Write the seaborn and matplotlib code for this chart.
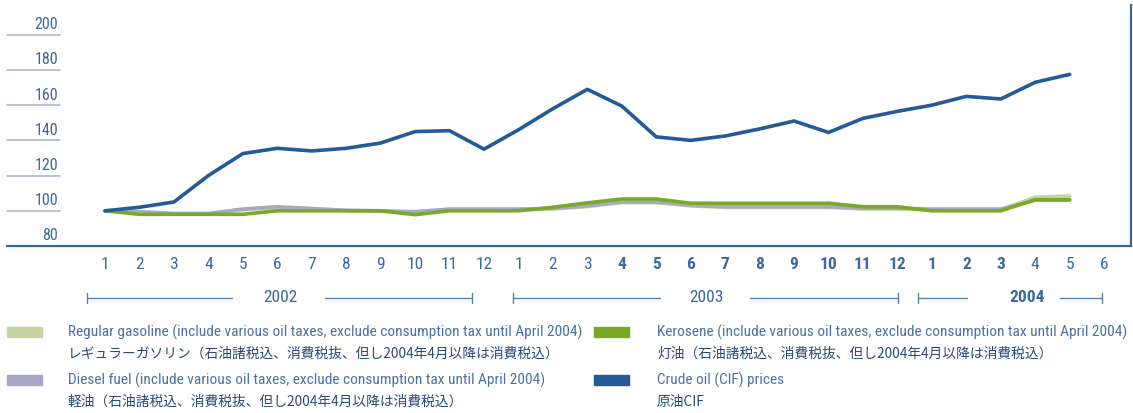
import numpy as np
import pandas as pd
import matplotlib
matplotlib.use("Agg")
import matplotlib.pyplot as plt
from matplotlib import font_manager
import seaborn as sns

# month labels: 2002/1 .. 2004/6
month_labels = [str(m) for m in range(1, 13)] * 2 + [str(m) for m in range(1, 7)]
bold_months = list(range(15, 27))  # 2003/4 .. 2004/3 drawn in bold

# index values (2002/1 = 100), 2002/1 .. 2004/5
crude = [100, 102, 105, 120, 132.5, 135.5, 134, 135.5, 138.5, 145, 145.5, 135,
         146, 158, 169, 159.5, 142, 140, 142.5, 146.5, 151, 144.5, 152.5, 156.5,
         160, 165, 163.5, 173, 177.5]
kerosene = [100, 98, 98, 98, 98, 100, 100, 100, 100, 97.8, 100, 100,
            100, 102, 104.5, 106.7, 106.7, 104.3, 104.3, 104.3, 104.3, 104.3, 102.3, 102.3,
            100, 100, 100, 106.3, 106.3]
diesel = [100, 99.5, 98.5, 98.5, 101, 102.3, 101.3, 100.3, 100, 99.5, 101, 101,
          101, 101.3, 102.8, 105, 105, 103.1, 102.3, 102.3, 102.3, 102.3, 101.4, 101.4,
          101, 101, 101, 106, 106]
gasoline = [100, 99, 98.2, 98.2, 100.5, 101.8, 101, 100, 99.7, 99.3, 100.6, 100.6,
            100.6, 101, 102.4, 104.6, 104.6, 102.8, 101.9, 101.9, 101.9, 101.9, 101, 101,
            100.5, 100.5, 100.5, 107.8, 108.4]

series_names = ["gasoline", "diesel", "kerosene", "crude"]
colors = {"gasoline": "#c6d6a2", "diesel": "#a8a8c6",
          "kerosene": "#78aa26", "crude": "#245a97"}

n = len(crude)
df = pd.DataFrame({"idx": np.arange(n), "gasoline": gasoline, "diesel": diesel,
                   "kerosene": kerosene, "crude": crude})
long = df.melt(id_vars="idx", var_name="series", value_name="value")

# pick a narrow latin face if one is installed
installed = {f.name for f in font_manager.fontManager.ttflist}
narrow = next((f for f in ["Liberation Sans Narrow", "Roboto Condensed",
                           "Open Sans Condensed", "DejaVu Sans Condensed"]
               if f in installed), "Roboto" if "Roboto" in installed else "DejaVu Sans")

sns.set_style("white")
plt.rcParams["font.family"] = [narrow, "Noto Sans CJK JP", "DejaVu Sans"]

tick_color = "#3b67a3"
W, H = 1133, 413
fig = plt.figure(figsize=(W / 100, H / 100), dpi=100)
ax = fig.add_axes([7 / W, 1 - 246 / H, 1124 / W, 241 / H])

sns.lineplot(data=long, x="idx", y="value", hue="series", hue_order=series_names,
             palette=colors, linewidth=2.6, legend=False, ax=ax, zorder=3)

ax.set_xlim(-2.845, 29.78)
ax.set_ylim(80, 216.9)

for s in ["top", "left"]:
    ax.spines[s].set_visible(False)
for s in ["bottom", "right"]:
    ax.spines[s].set_color("#3568a4")
    ax.spines[s].set_linewidth(1.6)

# short horizontal reference lines with labels
ax.set_yticks([])
for v in range(100, 201, 20):
    ax.plot([-2.845, -1.306], [v, v], color="#b3b3d3", lw=1.2, clip_on=False)
for v in range(80, 201, 20):
    ax.text(-1.36, v + 1.5, str(v), ha="right", va="bottom", fontsize=11.5,
            color=tick_color)

ax.set_xticks(range(len(month_labels)))
ax.set_xticklabels(month_labels)
ax.tick_params(axis="x", length=0, pad=8, labelsize=12.5, labelcolor=tick_color)
for i, lab in enumerate(ax.get_xticklabels()):
    if i in bold_months:
        lab.set_fontweight("bold")
ax.set_xlabel("")
ax.set_ylabel("")

# year brackets
trans = ax.get_xaxis_transform()
yb = -0.215
brackets = [("2002", -0.52, 10.65, 3.69, 6.39, 5.08, "normal"),
            ("2003", 11.84, 23.02, 16.11, 18.72, 17.47, "normal"),
            ("2004", 23.6, 28.94, 25.02, 27.72, 26.76, "bold")]
bcol = "#5a7fae"
for label, x0, x1, g0, g1, xc, w in brackets:
    ax.plot([x0, g0], [yb, yb], color=bcol, lw=1.0, transform=trans, clip_on=False)
    ax.plot([g1, x1], [yb, yb], color=bcol, lw=1.0, transform=trans, clip_on=False)
    for xe in (x0, x1):
        ax.plot([xe, xe], [yb - 0.02, yb + 0.02], color=bcol, lw=1.0,
                transform=trans, clip_on=False)
    ax.text(xc, yb, label, ha="center", va="center", fontsize=12.5,
            fontweight=w, color=tick_color, transform=trans)

# legend
en_col = "#4a72a6"
jp_col = "#27497e"
tail = " (include various oil taxes, exclude consumption tax until April 2004)"
jp_tail = "（石油諸税込、消費税抜、但し2004年4月以降は消費税込）"
legend_items = [
    ("gasoline", 7, 68, 332, "Regular gasoline" + tail, "レギュラーガソリン" + jp_tail),
    ("diesel", 7, 68, 380, "Diesel fuel" + tail, "軽油" + jp_tail),
    ("kerosene", 594, 657, 332, "Kerosene" + tail, "灯油" + jp_tail),
    ("crude", 594, 657, 380, "Crude oil (CIF) prices", "原油CIF"),
]

# size the english lines so the diesel line spans about 474 px like the original
renderer = fig.canvas.get_renderer()
probe = fig.text(0, 0, legend_items[1][4], fontsize=10)
en_size = 10 * 474 / probe.get_window_extent(renderer).width
probe.remove()

for key, sx, tx, ty, en, jp in legend_items:
    fig.patches.append(plt.Rectangle((sx / W, 1 - (ty + 5) / H), 35 / W, 10 / H,
                                     transform=fig.transFigure, color=colors[key]))
    fig.text(tx / W, 1 - ty / H, en, ha="left", va="center", fontsize=en_size,
             color=en_col)
    fig.text(tx / W, 1 - (ty + 22) / H, jp, ha="left", va="center", fontsize=9.9,
             color=jp_col, family=["Noto Sans CJK JP", "DejaVu Sans"])

fig.savefig("out.png", dpi=100)
